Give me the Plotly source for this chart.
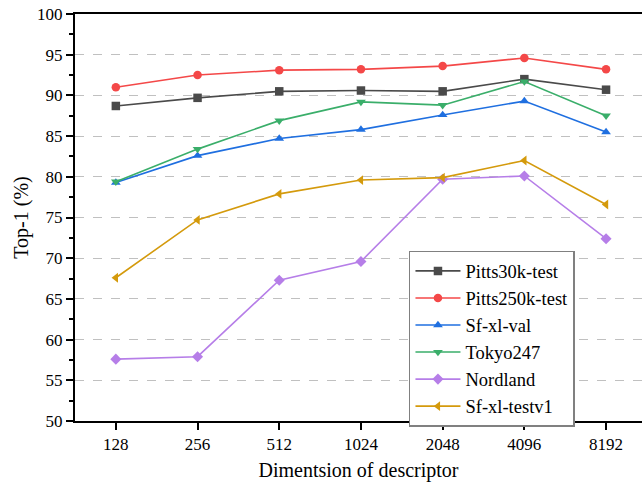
import plotly.graph_objects as go

categories = ["128", "256", "512", "1024", "2048", "4096", "8192"]
pitts30k = [88.7, 89.7, 90.5, 90.6, 90.5, 92.0, 90.7]
pitts250k = [91.0, 92.5, 93.1, 93.2, 93.6, 94.6, 93.2]
sfxl_val = [79.3, 82.6, 84.7, 85.8, 87.6, 89.3, 85.5]
tokyo247 = [79.4, 83.4, 86.9, 89.2, 88.8, 91.7, 87.5]
nordland = [57.6, 57.9, 67.3, 69.6, 79.7, 80.1, 72.4]
sfxl_testv1 = [67.6, 74.7, 77.9, 79.6, 79.9, 82.0, 76.6]

series = [
    ("Pitts30k-test", pitts30k, "#4a4a4a", "square"),
    ("Pitts250k-test", pitts250k, "#f44848", "circle"),
    ("Sf-xl-val", sfxl_val, "#1f6fe0", "triangle-up"),
    ("Tokyo247", tokyo247, "#3aae6a", "triangle-down"),
    ("Nordland", nordland, "#b67ee8", "diamond"),
    ("Sf-xl-testv1", sfxl_testv1, "#d49a0c", "triangle-left"),
]

fig = go.Figure()
for name, vals, color, sym in series:
    fig.add_trace(go.Scatter(
        x=categories, y=vals, name=name, mode="lines+markers",
        line=dict(color=color, width=1.6),
        marker=dict(color=color, symbol=sym, size=8.5),
    ))

FAM = "Liberation Serif"
fig.update_layout(
    width=642, height=487,
    margin=dict(l=75, r=0, t=14, b=66),
    plot_bgcolor="white", paper_bgcolor="white",
    font=dict(family=FAM, size=16, color="black"),
    showlegend=True,
    legend=dict(
        x=0.589, y=0.418, xanchor="left", yanchor="top",
        bordercolor="#808080", borderwidth=1.5, bgcolor="white",
        font=dict(family=FAM, size=18.5, color="black"), tracegroupgap=0,
        itemwidth=45,
    ),
)
fig.update_xaxes(
    type="category", range=[-0.5, 6.44],
    showline=True, linecolor="black", linewidth=2, mirror=True,
    ticks="outside", ticklen=7, tickwidth=1.5, tickcolor="black",
    showgrid=False, zeroline=False,
    tickfont=dict(family=FAM, size=17, color="black"),
    title=dict(text="Dimentsion of descriptor", font=dict(family=FAM, size=20, color="black"), standoff=10),
)
fig.update_yaxes(
    range=[50, 100], dtick=5, tick0=50,
    showline=True, linecolor="black", linewidth=2,
    ticks="outside", ticklen=7, tickwidth=1.5, tickcolor="black",
    minor=dict(dtick=2.5, ticks="outside", ticklen=4, tickwidth=1.5, tickcolor="black", showgrid=False),
    showgrid=True, gridcolor="#c0c0c0", griddash="dash", gridwidth=1,
    zeroline=False,
    tickfont=dict(family=FAM, size=17, color="black"),
    title=dict(text="Top-1 (%)", font=dict(family=FAM, size=20, color="black"), standoff=3),
)
fig.write_html(
    "out.html",
    config={"displayModeBar": False},
    post_script="document.body.style.margin='0';document.body.style.overflow='hidden';",
)
